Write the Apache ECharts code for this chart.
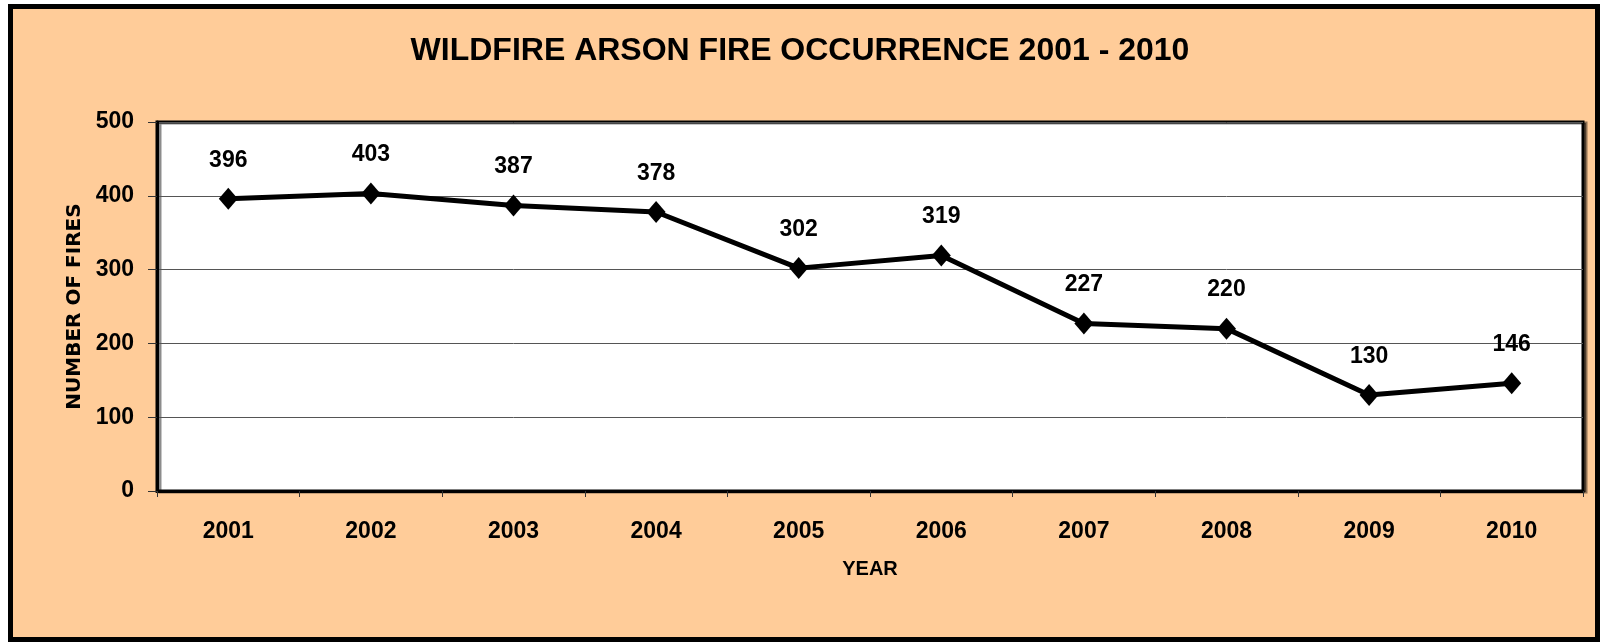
<!DOCTYPE html>
<html>
<head>
<meta charset="utf-8">
<title>Wildfire Arson Fire Occurrence 2001 - 2010</title>
<script src="https://cdn.jsdelivr.net/npm/echarts@6/dist/echarts.min.js"></script>
<style>
  html, body { margin: 0; padding: 0; background: #fff; }
  #main { width: 1600px; height: 643px; }
</style>
</head>
<body>
<div id="main"></div>
<script>
// data
const years = ['2001', '2002', '2003', '2004', '2005', '2006', '2007', '2008', '2009', '2010']
const fires = [396, 403, 387, 378, 302, 319, 227, 220, 130, 146]
const yTicks = [0, 100, 200, 300, 400, 500]

const FONT = "'Liberation Sans', Arial, sans-serif"

const option = {
    backgroundColor: '#fff',
    animation: false,
    graphic: [
        {
            // peach panel with thick black frame
            type: 'rect',
            z: -10,
            silent: true,
            shape: { x: 10.5, y: 6.5, width: 1587, height: 633 },
            style: { fill: '#FFCC99', stroke: '#000', lineWidth: 5 }
        }
    ],
    title: {
        text: 'WILDFIRE ARSON FIRE OCCURRENCE 2001 - 2010',
        left: 'center',
        top: 30,
        textStyle: {
            fontFamily: FONT,
            fontWeight: 'bold',
            fontSize: 32,
            color: '#000'
        }
    },
    grid: {
        left: 157,
        right: 17,
        top: 122,
        bottom: 152,
        show: true,
        backgroundColor: '#fff',
        borderColor: '#000',
        borderWidth: 3,
        shadowColor: 'rgba(0,0,0,0.45)',
        shadowOffsetX: 3,
        shadowOffsetY: 1,
        containLabel: false
    },
    xAxis: {
        type: 'category',
        data: years,
        boundaryGap: true,
        name: 'YEAR',
        nameLocation: 'middle',
        nameGap: 68,
        nameTextStyle: {
            fontFamily: FONT,
            fontWeight: 'bold',
            fontSize: 20,
            color: '#000'
        },
        axisLine: { show: true, lineStyle: { color: '#000', width: 3 } },
        axisTick: { show: true, length: 6, alignWithLabel: false, lineStyle: { color: '#333', width: 1 } },
        axisLabel: {
            margin: 29,
            fontFamily: FONT,
            fontWeight: 'bold',
            fontSize: 23,
            color: '#000'
        },
        splitLine: { show: false }
    },
    yAxis: {
        type: 'value',
        min: yTicks[0],
        max: yTicks[yTicks.length - 1],
        interval: yTicks[1] - yTicks[0],
        name: 'NUMBER OF FIRES',
        nameLocation: 'middle',
        nameGap: 72,
        nameRotate: 90,
        nameTextStyle: {
            fontFamily: "'DejaVu Sans', sans-serif",
            fontWeight: 'bold',
            fontSize: 20,
            color: '#000'
        },
        axisLine: { show: true, lineStyle: { color: '#000', width: 3 } },
        axisTick: { show: true, length: 9, lineStyle: { color: '#333', width: 1 } },
        axisLabel: {
            margin: 23,
            fontFamily: FONT,
            fontWeight: 'bold',
            fontSize: 23,
            color: '#000'
        },
        splitLine: { show: true, lineStyle: { color: '#555', width: 1 } }
    },
    series: [
        {
            name: 'Fires',
            type: 'line',
            data: fires,
            symbol: 'diamond',
            symbolSize: [19, 22],
            showAllSymbol: true,
            lineStyle: { color: '#000', width: 5 },
            itemStyle: { color: '#000', borderColor: '#000', borderWidth: 0 },
            label: {
                show: true,
                position: 'top',
                distance: 16,
                fontFamily: FONT,
                fontWeight: 'bold',
                fontSize: 23,
                color: '#000'
            },
            emphasis: { disabled: true }
        }
    ]
}

var myChart = echarts.init(document.getElementById('main'))
myChart.setOption(option)
window.onresize = function () {
    myChart.resize()
}
</script>
</body>
</html>
